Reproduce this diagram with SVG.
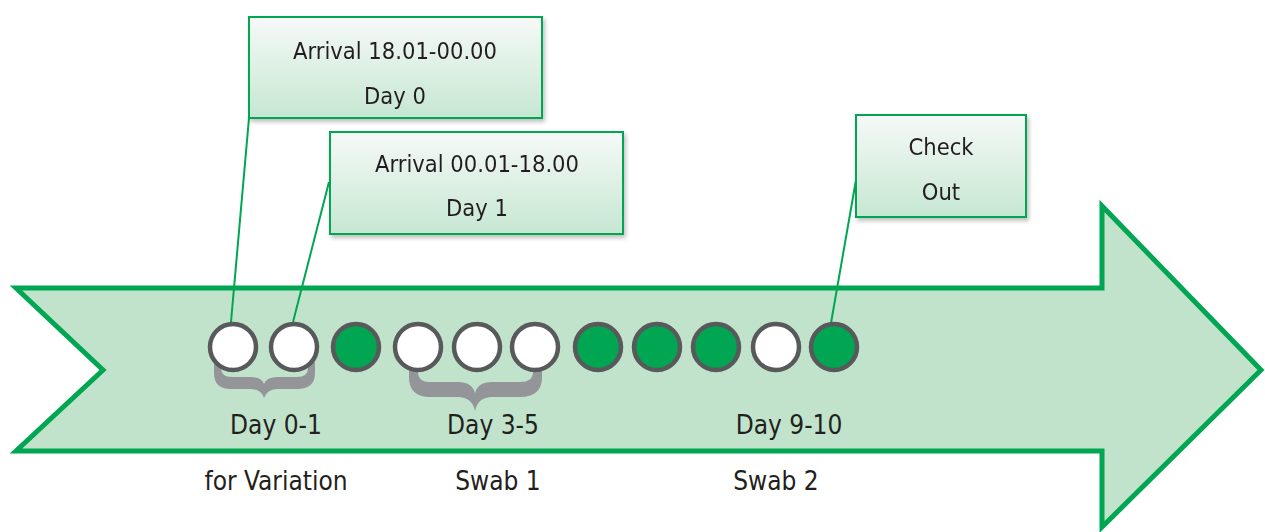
<svg xmlns="http://www.w3.org/2000/svg" width="1265" height="532" viewBox="0 0 1265 532">
  <defs>
    <linearGradient id="boxFill" x1="0" y1="0" x2="0" y2="1">
      <stop offset="0" stop-color="#f6f9f7"/>
      <stop offset="1" stop-color="#c6e7d2"/>
    </linearGradient>
    <filter id="shadow" x="-10%" y="-10%" width="130%" height="140%">
      <feGaussianBlur in="SourceAlpha" stdDeviation="2"/>
      <feOffset dx="2" dy="3" result="b"/>
      <feComponentTransfer><feFuncA type="linear" slope="0.25"/></feComponentTransfer>
      <feMerge><feMergeNode/><feMergeNode in="SourceGraphic"/></feMerge>
    </filter>
  </defs>
  <style>
    .box { fill: url(#boxFill); stroke: #00a651; stroke-width: 2; }
    .btxt { font-family: "DejaVu Sans Condensed", "DejaVu Sans", sans-serif; font-size: 23.5px; fill: #231f20; text-anchor: middle; }
    .ltxt { font-family: "DejaVu Sans Condensed", "DejaVu Sans", sans-serif; font-size: 26px; fill: #231f20; text-anchor: middle; }
    .dot { stroke: #58595b; stroke-width: 4.5; }
    .w { fill: #ffffff; }
    .g { fill: #00a651; }
    .brace { fill: #939598; }
    .conn { stroke: #00a651; stroke-width: 2; fill: none; }
  </style>

  <rect width="1265" height="532" fill="#ffffff"/>

  <g id="arrow">
    <polygon points="16,288 1102,288 1102,206 1261,370 1102,527 1102,451 16,451 103,370"
      fill="#c1e3cb" stroke="#00a651" stroke-width="5" stroke-linejoin="miter"/>
  </g>

  <g id="connectors">
    <line class="conn" x1="249" y1="118" x2="231" y2="322"/>
    <line class="conn" x1="329" y1="182" x2="293" y2="322"/>
    <line class="conn" x1="856" y1="180" x2="831" y2="323"/>
  </g>

  <g id="box-day0" filter="url(#shadow)">
    <rect class="box" x="249" y="17" width="293" height="101"/>
    <text class="btxt" x="395" y="59">Arrival 18.01-00.00</text>
    <text class="btxt" x="395" y="104">Day 0</text>
  </g>
  <g id="box-day1" filter="url(#shadow)">
    <rect class="box" x="330" y="132" width="293" height="102"/>
    <text class="btxt" x="477" y="172">Arrival 00.01-18.00</text>
    <text class="btxt" x="477" y="216">Day 1</text>
  </g>
  <g id="box-checkout" filter="url(#shadow)">
    <rect class="box" x="856" y="115" width="170" height="102"/>
    <text class="btxt" x="941" y="155">Check</text>
    <text class="btxt" x="941" y="200">Out</text>
  </g>

  <g id="braces">
    <path class="brace" d="M214,362 L214,373 Q214,389 231,389 L250,389 Q261,389 264,398 Q267,389 278,389 L297,389 Q315,389 315,373 L315,362 L308,362 L308,368 Q308,377 297,377 L278,377 Q266,377 264,384 Q262,377 250,377 L232,377 Q221,377 221,368 L221,362 Z"/>
    <path class="brace" d="M409,366 L409,377 Q409,397 430,397 L458,397 Q472,397 475,411 Q478,397 492,397 L520,397 Q542,397 542,377 L542,366 L533,366 L533,372 Q533,382 520,382 L492,382 Q478,382 475,393 Q472,382 458,382 L430,382 Q418,382 418,372 L418,366 Z"/>
  </g>

  <g id="dots">
    <circle class="dot w" cx="233" cy="347" r="23"/>
    <circle class="dot w" cx="294" cy="347" r="23"/>
    <circle class="dot g" cx="356" cy="347" r="23"/>
    <circle class="dot w" cx="418" cy="347" r="23"/>
    <circle class="dot w" cx="477" cy="347" r="23"/>
    <circle class="dot w" cx="535" cy="347" r="23"/>
    <circle class="dot g" cx="598" cy="347" r="23"/>
    <circle class="dot g" cx="657" cy="347" r="23"/>
    <circle class="dot g" cx="716" cy="347" r="23"/>
    <circle class="dot w" cx="776" cy="347" r="23"/>
    <circle class="dot g" cx="834" cy="347" r="23"/>
  </g>

  <g id="labels">
    <text class="ltxt" x="276" y="434">Day 0-1</text>
    <text class="ltxt" x="493" y="434">Day 3-5</text>
    <text class="ltxt" x="789" y="434">Day 9-10</text>
    <text class="ltxt" x="276" y="490">for Variation</text>
    <text class="ltxt" x="498" y="490">Swab 1</text>
    <text class="ltxt" x="776" y="490">Swab 2</text>
  </g>
</svg>
